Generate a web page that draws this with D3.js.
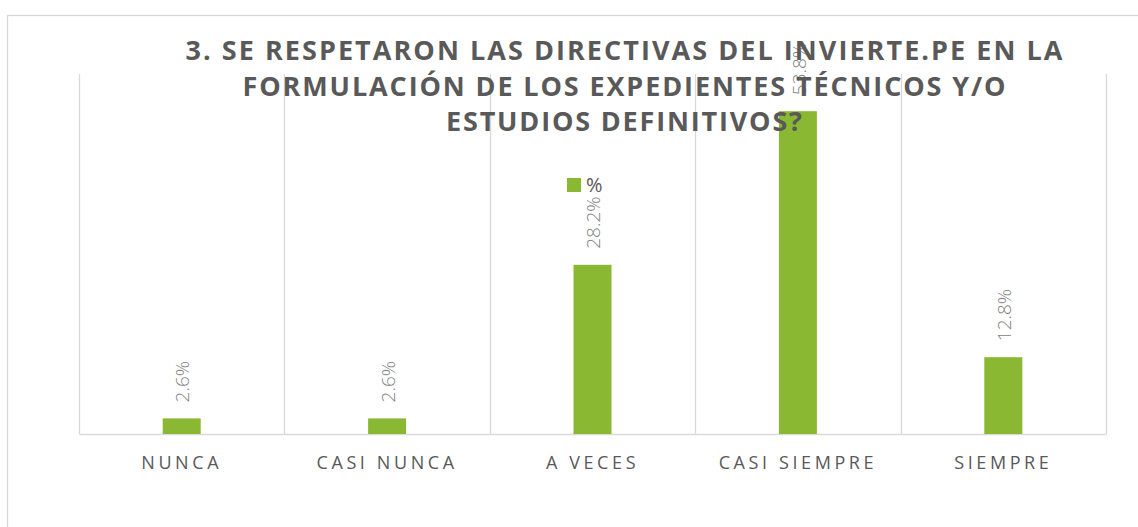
<!DOCTYPE html>
<html>
<head>
<meta charset="utf-8">
<script src="https://cdn.jsdelivr.net/npm/d3@7"></script>
<style>
  html, body { margin: 0; padding: 0; background: #fff; }
  svg { display: block; }
</style>
</head>
<body>
<script>
const categories = ["NUNCA", "CASI NUNCA", "A VECES", "CASI SIEMPRE", "SIEMPRE"];
const values = [2.6, 2.6, 28.2, 53.8, 12.8];
const seriesName = "%";
const titleLines = [
  "3. SE RESPETARON LAS DIRECTIVAS DEL INVIERTE.PE EN LA",
  "FORMULACIÓN DE LOS EXPEDIENTES TÉCNICOS Y/O",
  "ESTUDIOS DEFINITIVOS?"
];
const yDomain = [0, 60];

const W = 1138, H = 527;
const plot = { left: 79, right: 1106, top: 74, bottom: 434 };
const green = "#8ab833";
const grid = "#d9d9d9";

const svg = d3.select("body").append("svg").attr("width", W).attr("height", H);

// chart area border (extends beyond the visible window)
svg.append("rect")
  .attr("x", 7.5).attr("y", 15.5)
  .attr("width", 1240).attr("height", 600)
  .attr("fill", "#fff").attr("stroke", grid).attr("stroke-width", 1.3);

const x = d3.scaleBand()
  .domain(categories)
  .range([plot.left, plot.right])
  .paddingInner(0.815)
  .paddingOuter(0.4075);

const y = d3.scaleLinear().domain(yDomain).range([plot.bottom, plot.top]);

const step = x.step();
// vertical gridlines at category boundaries
const boundaries = d3.range(categories.length + 1).map(i => plot.left + i * step);
svg.append("g").selectAll("line").data(boundaries).join("line")
  .attr("x1", d => Math.round(d) + 0.5).attr("x2", d => Math.round(d) + 0.5)
  .attr("y1", y(yDomain[1])).attr("y2", y(0))
  .attr("stroke", grid).attr("stroke-width", 1.3);

// baseline axis
const xAxis = d3.axisBottom(x).tickSize(0).tickPadding(0);
const gx = svg.append("g").attr("transform", `translate(0,${y(0)})`).call(xAxis);
gx.select(".domain").attr("stroke", grid).attr("stroke-width", 1.6);
gx.selectAll(".tick text")
  .attr("y", 35)
  .attr("dy", 0)
  .attr("fill", "#595959")
  .style("font-family", "'Open Sans', sans-serif")
  .style("font-size", "18px")
  .style("letter-spacing", "3.6px");

// bars
svg.append("g").selectAll("rect").data(values).join("rect")
  .attr("x", (d, i) => x(categories[i]))
  .attr("width", x.bandwidth())
  .attr("y", d => y(d))
  .attr("height", d => y(0) - y(d))
  .attr("fill", green);

// data labels
svg.append("g").selectAll("text").data(values).join("text")
  .attr("transform", (d, i) => `translate(${x(categories[i]) + x.bandwidth() / 2 + 1},${y(d) - 16}) rotate(-90)`)
  .attr("dy", "0.35em")
  .attr("text-anchor", "start")
  .attr("fill", "#7f7f7f")
  .style("font-family", "'Open Sans', sans-serif")
  .style("font-weight", "300")
  .style("font-size", "19px")
  .text(d => d.toFixed(1) + "%");

// legend
const lg = svg.append("g");
lg.append("rect").attr("x", 567).attr("y", 178).attr("width", 14).attr("height", 14).attr("fill", green);
lg.append("text").attr("x", 586).attr("y", 191.5)
  .attr("fill", "#595959")
  .style("font-family", "'Open Sans', sans-serif")
  .style("font-size", "20px")
  .text(seriesName);

// title
const titleWidths = [877, 763, 356];
const titleBaselines = [60, 95.5, 131];
svg.append("g").selectAll("text").data(titleLines).join("text")
  .attr("x", 624)
  .attr("y", (d, i) => titleBaselines[i])
  .attr("text-anchor", "middle")
  .attr("textLength", (d, i) => titleWidths[i])
  .attr("lengthAdjust", "spacing")
  .attr("fill", "#595959")
  .style("font-family", "'Open Sans', sans-serif")
  .style("font-weight", "bold")
  .style("font-size", "27px")
  .text(d => d);
</script>
</body>
</html>
